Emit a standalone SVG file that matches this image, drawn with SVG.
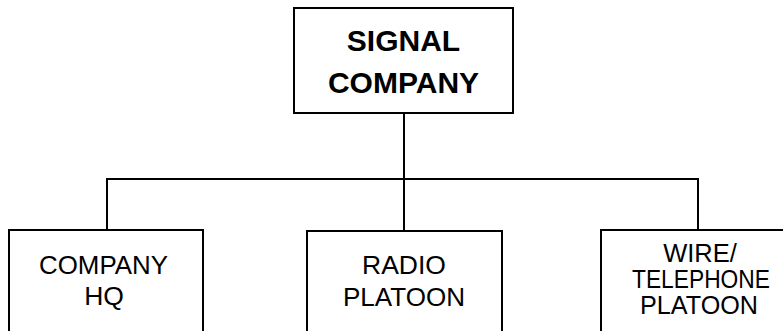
<svg xmlns="http://www.w3.org/2000/svg" width="783" height="331" viewBox="0 0 783 331">
<style>
.box{fill:#fff;stroke:#000;stroke-width:2}
.ln{fill:none;stroke:#000;stroke-width:2}
.t{font-family:"Liberation Sans",Arial,sans-serif;font-size:26.5px;fill:#000;text-anchor:middle}
.b{font-weight:bold;font-size:30px}
</style>
<rect width="783" height="331" fill="#fff"/>
<g id="connectors">
<path class="ln" d="M404,113 V231"/>
<path class="ln" d="M107,230 V179 H698 V230"/>
</g>
<g id="signal-company">
<rect class="box" x="294" y="8" width="219" height="105"/>
<text class="t b" x="403.5" y="50.7">SIGNAL</text>
<text class="t b" x="403.5" y="92.7">COMPANY</text>
</g>
<g id="company-hq">
<rect class="box" x="9" y="230" width="194" height="110"/>
<text class="t" x="103.5" y="274.3" textLength="129" lengthAdjust="spacingAndGlyphs">COMPANY</text>
<text class="t" x="104" y="305.3">HQ</text>
</g>
<g id="radio-platoon">
<rect class="box" x="307" y="231" width="195" height="110"/>
<text class="t" x="404" y="274.3">RADIO</text>
<text class="t" x="404" y="305.5" textLength="122" lengthAdjust="spacingAndGlyphs">PLATOON</text>
</g>
<g id="wire-telephone-platoon">
<rect class="box" x="601" y="230" width="195" height="110"/>
<text class="t" x="700" y="261.7" style="font-size:25.5px">WIRE/</text>
<text class="t" x="701" y="288.3" style="font-size:25.5px" textLength="138" lengthAdjust="spacingAndGlyphs">TELEPHONE</text>
<text class="t" x="699" y="314.3" style="font-size:25.5px" textLength="118" lengthAdjust="spacingAndGlyphs">PLATOON</text>
</g>
</svg>
